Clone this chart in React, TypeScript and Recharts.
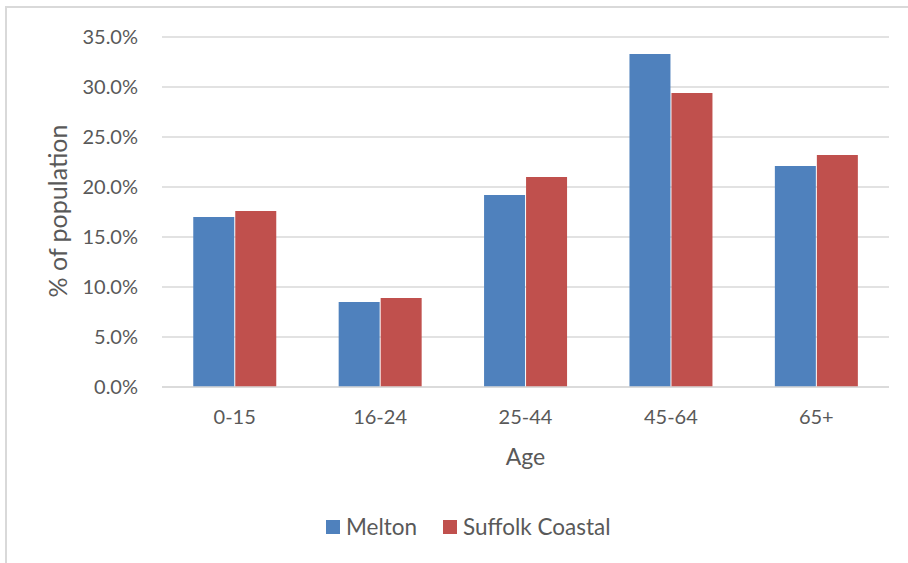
import React from 'react';
import { BarChart, Bar, XAxis, YAxis, CartesianGrid, Legend } from 'recharts';

const categories = ['0-15', '16-24', '25-44', '45-64', '65+'];
const melton = [17.0, 8.5, 19.2, 33.3, 22.1];
const suffolkCoastal = [17.6, 8.9, 21.0, 29.4, 23.2];
const yTicks = [0, 5, 10, 15, 20, 25, 30, 35];

const data = categories.map((c, i) => ({ age: c, Melton: melton[i], 'Suffolk Coastal': suffolkCoastal[i] }));

const FONT = 'Lato, "Liberation Sans", sans-serif';
const TXT = '#595959';

const renderLegend = (props: any) => {
  const { payload } = props;
  return (
    <div style={{ display: 'flex', alignItems: 'center', fontFamily: FONT, fontSize: 22.5, color: TXT, whiteSpace: 'nowrap' }}>
      {payload.map((p: any, i: number) => (
        <div key={i} style={{ display: 'flex', alignItems: 'center', marginRight: i === 0 ? 26 : 0 }}>
          <span style={{ display: 'inline-block', width: 14, height: 14, background: p.color, marginRight: 6 }} />
          <span>{p.value}</span>
        </div>
      ))}
    </div>
  );
};

export default function App() {
  return (
    <div style={{ position: 'fixed', left: 0, top: 0, width: 908, height: 563, background: '#fff', overflow: 'hidden' }}>
      <div style={{ position: 'absolute', left: 5, top: 6, width: 920, height: 600, borderLeft: '2px solid #d9d9d9', borderTop: '2px solid #d9d9d9' }} />
      <div style={{ position: 'absolute', left: 0, top: 0 }}>
        <BarChart
          width={908}
          height={563}
          data={data}
          margin={{ top: 37, right: 19, bottom: 30, left: 62 }}
          barCategoryGap="21.5%"
          barGap={1}
        >
          <CartesianGrid vertical={false} stroke="#d9d9d9" strokeWidth={1.5} />
          <XAxis
            dataKey="age"
            height={146}
            tickLine={false}
            axisLine={{ stroke: '#d9d9d9', strokeWidth: 1.5 }}
            tickSize={0}
            tickMargin={23}
            tick={{ fill: TXT, fontSize: 20, fontFamily: FONT }}
            label={{ value: 'Age', position: 'center', dy: -3, fill: TXT, fontSize: 23, fontFamily: FONT }}
          />
          <YAxis
            width={100}
            domain={[0, 35]}
            ticks={yTicks}
            interval={0}
            tickLine={false}
            axisLine={false}
            tickSize={0}
            tickMargin={24}
            tickFormatter={(v: number) => v.toFixed(1) + '%'}
            tick={{ fill: TXT, fontSize: 20, fontFamily: FONT }}
            label={{ value: '% of population', angle: -90, position: 'center', dx: -54, dy: -1, fill: TXT, fontSize: 25, fontFamily: FONT }}
          />
          <Legend
            layout="horizontal"
            verticalAlign="middle"
            align="center"
            content={renderLegend}
            wrapperStyle={{ position: 'absolute', top: 513, left: 326, width: 'auto', height: 'auto' }}
          />
          <Bar dataKey="Melton" fill="#4F81BD" isAnimationActive={false} />
          <Bar dataKey="Suffolk Coastal" fill="#C0504D" isAnimationActive={false} />
        </BarChart>
      </div>
    </div>
  );
}
